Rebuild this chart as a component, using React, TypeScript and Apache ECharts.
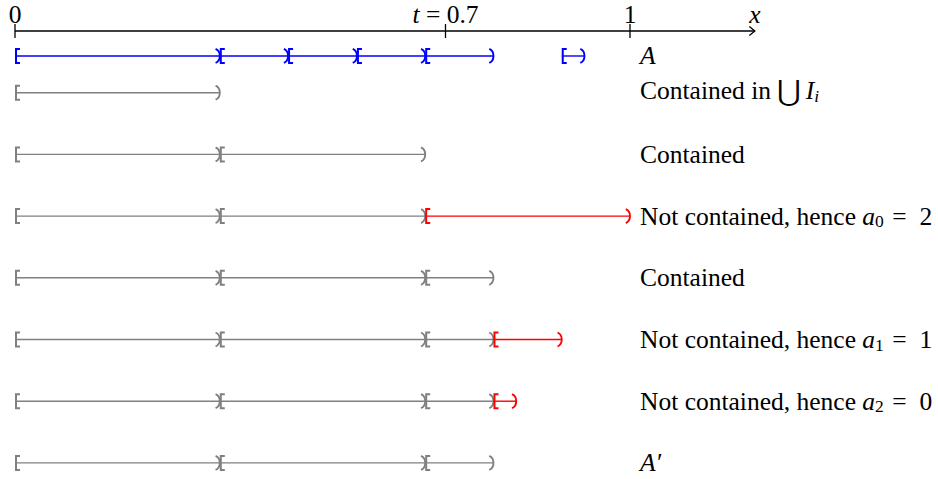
import React, { useEffect, useRef } from "react";
import * as echarts from "echarts";

// Number line
const axisEnd = 1.203;
const axisTicks = [0, 0.7, 1];
const axisTickLabels = ["{n|0}", "{i|t}{n| = 0.7}", "{n|1}"];
const axisName = "{i|x}";

// Rows (y position in row units, 0 = number line)
const rowY = [0.405, 1, 2, 3, 4, 5, 6, 7];
const rowLabels = [
  "{i|A}",
  "{n|Contained in }{u|⋃}{i|\u2006I}{si|i}",
  "{n|Contained}",
  "{n|Not contained, hence }{i|a}{s|0}{n|\u2004=\u20022}",
  "{n|Contained}",
  "{n|Not contained, hence }{i|a}{s|1}{n|\u2004=\u20021}",
  "{n|Not contained, hence }{i|a}{s|2}{n|\u2004=\u20020}",
  "{i|A′}",
];

// Intervals [start, end) per row
const blueSpans = [
  [0, 0.333],
  [0.333, 0.444],
  [0.444, 0.556],
  [0.556, 0.667],
  [0.667, 0.778],
  [0.889, 0.926],
];
const graySpans = [
  [],
  [[0, 0.333]],
  [[0, 0.333], [0.333, 0.667]],
  [[0, 0.333], [0.333, 0.667]],
  [[0, 0.333], [0.333, 0.667], [0.667, 0.778]],
  [[0, 0.333], [0.333, 0.667], [0.667, 0.778]],
  [[0, 0.333], [0.333, 0.667], [0.667, 0.778]],
  [[0, 0.333], [0.333, 0.667], [0.667, 0.778]],
];
const redSpans = [
  [],
  [],
  [],
  [[0.667, 1]],
  [],
  [[0.778, 0.889]],
  [[0.778, 0.815]],
  [],
];

const colors = ["#808080", "#ff0000", "#0000ff"];

const FONT = "Liberation Serif";
const FS = 25.5;
const rich: any = {
  n: { fontFamily: FONT, fontSize: FS, lineHeight: 28 },
  i: { fontFamily: FONT, fontSize: FS, fontStyle: "italic", lineHeight: 28 },
  s: { fontFamily: FONT, fontSize: 17.5, lineHeight: 17, verticalAlign: "bottom" },
  si: { fontFamily: FONT, fontSize: 17.5, fontStyle: "italic", lineHeight: 17, verticalAlign: "bottom" },
  u: { fontFamily: "DejaVu Serif", fontSize: 29, lineHeight: 28 },
};

export default function App() {
  const ref = useRef<HTMLDivElement>(null);
  useEffect(() => {
    if (!ref.current) return;
    const chart = echarts.init(ref.current, null, { renderer: "svg" });

    const spanData: number[][] = [];
    graySpans.forEach((row, r) => row.forEach((s) => spanData.push([s[0], s[1], rowY[r], 0])));
    redSpans.forEach((row, r) => row.forEach((s) => spanData.push([s[0], s[1], rowY[r], 1])));
    blueSpans.forEach((s) => spanData.push([s[0], s[1], rowY[0], 2]));

    const option: any = {
      animation: false,
      grid: { left: 15, right: 0.5, top: 31, bottom: 16.1 },
      xAxis: { type: "value", min: 0, max: 1.5, show: false },
      yAxis: { type: "value", min: 0, max: 7, inverse: true, show: false },
      series: [
        {
          type: "custom",
          name: "axis",
          data: [[0, axisEnd]],
          renderItem: (params: any, api: any) => {
            const s = api.coord([api.value(0), 0]);
            const e = api.coord([api.value(1), 0]);
            const y = s[1];
            return {
              type: "group",
              children: [
                { type: "line", shape: { x1: s[0], y1: y, x2: e[0], y2: y }, style: { stroke: "#000", lineWidth: 1.6 } },
                {
                  type: "polyline",
                  shape: { points: [[e[0] - 5.5, y - 4.5], [e[0], y], [e[0] - 5.5, y + 4.5]] },
                  style: { stroke: "#000", lineWidth: 1.3, fill: "none" },
                },
                {
                  type: "text",
                  x: e[0],
                  y: y - 17,
                  style: { text: axisName, rich, align: "center", verticalAlign: "middle", fill: "#000" },
                },
              ],
            };
          },
        },
        {
          type: "custom",
          name: "ticks",
          data: axisTicks.map((v, i) => [v, i]),
          renderItem: (params: any, api: any) => {
            const p = api.coord([api.value(0), 0]);
            return {
              type: "group",
              children: [
                { type: "line", shape: { x1: p[0], y1: p[1] - 7, x2: p[0], y2: p[1] + 7 }, style: { stroke: "#000", lineWidth: 1.3 } },
                {
                  type: "text",
                  x: p[0],
                  y: p[1] - 17,
                  style: { text: axisTickLabels[api.value(1)], rich, align: "center", verticalAlign: "middle", fill: "#000" },
                },
              ],
            };
          },
        },
        {
          type: "custom",
          name: "intervals",
          data: spanData,
          renderItem: (params: any, api: any) => {
            const s = api.coord([api.value(0), api.value(2)]);
            const e = api.coord([api.value(1), api.value(2)]);
            const c = colors[api.value(3)];
            const y = s[1];
            const h = 7;
            return {
              type: "group",
              children: [
                { type: "line", shape: { x1: s[0], y1: y, x2: e[0], y2: y }, style: { stroke: c, lineWidth: 1.4 } },
                {
                  type: "polyline",
                  shape: { points: [[s[0] + 5, y - h], [s[0] + 1, y - h], [s[0] + 1, y + h], [s[0] + 5, y + h]] },
                  style: { stroke: c, lineWidth: 2, fill: "none" },
                },
                {
                  type: "bezierCurve",
                  shape: { x1: e[0] - 4.2, y1: y - h, cpx1: e[0] + 1.4, cpy1: y - 4.5, cpx2: e[0] + 1.4, cpy2: y + 4.5, x2: e[0] - 4.2, y2: y + h },
                  style: { stroke: c, lineWidth: 1.9, fill: "none" },
                },
              ],
            };
          },
        },
        {
          type: "custom",
          name: "labels",
          data: rowY.map((y, i) => [y, i]),
          renderItem: (params: any, api: any) => {
            const p = api.coord([1, api.value(0)]);
            const txt = rowLabels[api.value(1)];
            const lift = txt.indexOf("{u|") >= 0 ? 2 : 0;
            return {
              type: "text",
              x: p[0] + 10,
              y: p[1] - lift,
              style: { text: txt, rich, align: "left", verticalAlign: "middle", fill: "#000" },
            };
          },
        },
      ],
    };
    chart.setOption(option);
    return () => chart.dispose();
  }, []);
  return <div ref={ref} style={{ position: "absolute", left: 0, top: 0, width: 938, height: 479 }} />;
}
